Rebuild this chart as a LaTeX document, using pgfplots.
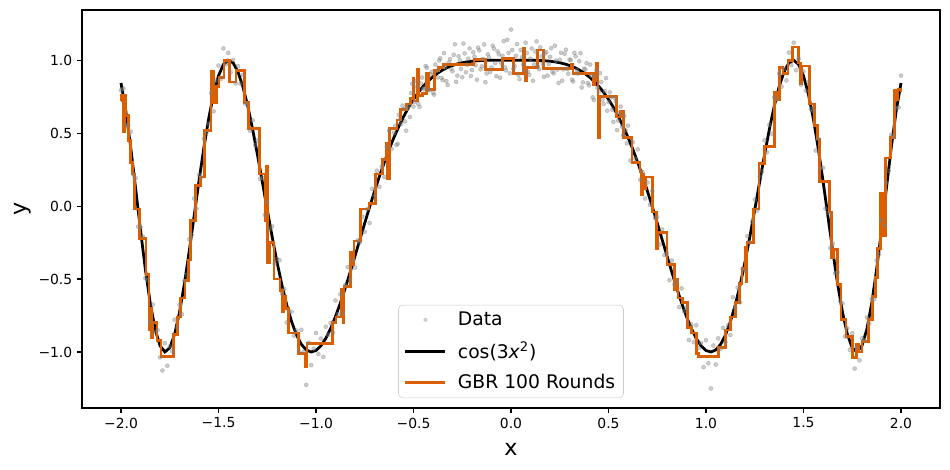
\documentclass[border=0pt]{standalone}
\usepackage{fontspec}
\setmainfont{DejaVu Sans}
\usepackage{pgfplots}
\pgfplotsset{compat=1.18}
\definecolor{gbr}{RGB}{217,95,2}
\definecolor{dots}{RGB}{128,128,128}
\definecolor{legedge}{RGB}{204,204,204}
\pgfplotsset{
  lineleg/.style={legend image code/.code={\draw[##1] (0bp,0bp) -- (28.8bp,0bp);}},
  dotleg/.style={legend image code/.code={\fill[draw=none, fill=dots, fill opacity=0.4] (14.4bp,0bp) circle (1.45bp); \path[draw=none] (0bp,0bp) -- (28.8bp,0bp);}},
}
\begin{document}
\begin{tikzpicture}
\path[use as bounding box] (-59.04bp,-44.64bp) rectangle (624.96bp,293.76bp);
\begin{axis}[
  width=617.76bp, height=286.56bp, scale only axis,
  xmin=-2.2, xmax=2.2, ymin=-1.384, ymax=1.344,
  axis line style={line width=0.8bp, black},
  tick align=outside, major tick length=3.5bp,
  every tick/.style={line width=0.8bp, black},
  xtick={-2,-1.5,-1,-0.5,0,0.5,1,1.5,2},
  xticklabels={−2.0,−1.5,−1.0,−0.5,0.0,0.5,1.0,1.5,2.0},
  ytick={-1,-0.5,0,0.5,1},
  yticklabels={−1.0,−0.5,0.0,0.5,1.0},
  xtick pos=bottom, ytick pos=left,
  ticklabel style={font=\fontsize{10bp}{12bp}\selectfont},
  xlabel={x}, ylabel={y},
  label style={font=\fontsize{16bp}{19bp}\selectfont},
  xlabel style={at={(axis description cs:0.5,-0.103)}, anchor=center},
  ylabel style={at={(axis description cs:-0.0688,0.5)}, anchor=center},
  legend style={at={(0.5,0.025)}, anchor=south, draw=legedge, rounded corners=3bp,
    fill=white, fill opacity=0.8, text opacity=1, draw opacity=1,
    font=\fontsize{13.5bp}{16bp}\selectfont, inner xsep=4bp, inner ysep=3bp,
    row sep=6bp, /tikz/every odd column/.append style={column sep=6bp}},
  legend cell align=left,
]
\addplot[only marks, mark=*, mark size=1.45bp, mark options={draw=dots, fill=dots, fill opacity=0.4, draw opacity=0.4}, dotleg]
coordinates {
(-2.0000,0.794)(-1.9875,0.806)(-1.9750,0.559)(-1.9625,0.555)(-1.9500,0.510)(-1.9375,0.221)(-1.9250,0.191)(-1.9125,-0.142)
(-1.9000,-0.145)(-1.8875,-0.209)(-1.8750,-0.494)(-1.8625,-0.509)(-1.8500,-0.795)(-1.8375,-0.675)(-1.8250,-0.864)(-1.8125,-0.850)
(-1.8000,-1.037)(-1.7875,-1.127)(-1.7750,-0.940)(-1.7625,-1.094)(-1.7500,-0.962)(-1.7375,-0.995)(-1.7250,-0.779)(-1.7125,-0.834)
(-1.7000,-0.678)(-1.6875,-0.741)(-1.6750,-0.514)(-1.6625,-0.471)(-1.6500,-0.228)(-1.6375,-0.198)(-1.6250,0.052)(-1.6125,-0.017)
(-1.6000,0.213)(-1.5875,0.197)(-1.5750,0.461)(-1.5625,0.501)(-1.5500,0.562)(-1.5375,0.775)(-1.5250,0.649)(-1.5125,0.861)
(-1.5000,0.963)(-1.4875,0.872)(-1.4750,1.081)(-1.4625,0.971)(-1.4500,1.050)(-1.4375,0.916)(-1.4250,1.002)(-1.4125,0.841)
(-1.4000,0.960)(-1.3875,0.839)(-1.3750,0.899)(-1.3625,0.702)(-1.3500,0.696)(-1.3375,0.516)(-1.3250,0.587)(-1.3125,0.418)
(-1.3000,0.450)(-1.2875,0.187)(-1.2750,0.194)(-1.2625,-0.061)(-1.2500,0.025)(-1.2375,-0.157)(-1.2250,-0.139)(-1.2125,-0.396)
(-1.2000,-0.363)(-1.1875,-0.371)(-1.1750,-0.600)(-1.1625,-0.569)(-1.1500,-0.798)(-1.1375,-0.725)(-1.1250,-0.723)(-1.1125,-0.888)
(-1.1000,-0.853)(-1.0875,-0.995)(-1.0750,-0.848)(-1.0625,-0.997)(-1.0500,-1.226)(-1.0375,-0.936)(-1.0250,-1.090)(-1.0125,-0.977)
(-1.0000,-0.870)(-0.9875,-1.014)(-0.9750,-0.908)(-0.9625,-1.033)(-0.9500,-0.827)(-0.9375,-0.883)(-0.9250,-0.800)(-0.9125,-0.868)
(-0.9000,-0.647)(-0.8875,-0.741)(-0.8750,-0.604)(-0.8625,-0.733)(-0.8500,-0.542)(-0.8375,-0.418)(-0.8250,-0.504)(-0.8125,-0.368)
(-0.8000,-0.422)(-0.7875,-0.236)(-0.7750,-0.250)(-0.7625,-0.073)(-0.7500,-0.176)(-0.7375,-0.021)(-0.7250,-0.116)(-0.7125,0.118)
(-0.7000,0.071)(-0.6875,0.242)(-0.6750,0.132)(-0.6625,0.271)(-0.6500,0.199)(-0.6375,0.405)(-0.6250,0.518)(-0.6125,0.391)
(-0.6000,0.501)(-0.5875,0.419)(-0.5750,0.626)(-0.5625,0.562)(-0.5500,0.665)(-0.5375,0.517)(-0.5250,0.687)(-0.5125,0.775)
(-0.5000,0.682)(-0.4875,0.857)(-0.4750,0.700)(-0.4625,0.841)(-0.4500,0.801)(-0.4375,0.960)(-0.4250,0.797)(-0.4125,0.903)
(-0.4000,0.777)(-0.3875,0.970)(-0.3750,0.882)(-0.3625,1.013)(-0.3500,0.863)(-0.3375,0.952)(-0.3250,0.830)(-0.3125,1.007)
(-0.3000,0.924)(-0.2875,1.109)(-0.2750,0.894)(-0.2625,0.999)(-0.2500,0.883)(-0.2375,1.046)(-0.2250,0.969)(-0.2125,1.081)
(-0.2000,0.933)(-0.1875,1.024)(-0.1750,0.866)(-0.1625,1.067)(-0.1500,0.958)(-0.1375,1.108)(-0.1250,0.909)(-0.1125,1.019)
(-0.1000,0.950)(-0.0875,1.080)(-0.0750,0.890)(-0.0625,1.040)(-0.0500,0.980)(-0.0375,1.130)(-0.0250,0.930)(-0.0125,1.050)
(0.0000,1.210)(0.0125,0.940)(0.0250,1.030)(0.0375,0.900)(0.0500,1.070)(0.0625,0.970)(0.0750,1.120)(0.0875,0.920)
(0.1000,1.010)(0.1125,0.859)(0.1250,1.059)(0.1375,0.958)(0.1500,1.088)(0.1625,0.977)(0.1750,1.046)(0.1875,0.894)
(0.2000,1.023)(0.2125,0.921)(0.2250,1.099)(0.2375,0.936)(0.2500,1.003)(0.2625,0.859)(0.2750,1.044)(0.2875,0.939)
(0.3000,1.004)(0.3125,0.867)(0.3250,1.050)(0.3375,0.932)(0.3500,0.993)(0.3625,0.813)(0.3750,0.942)(0.3875,0.980)
(0.4000,0.827)(0.4125,0.893)(0.4250,0.727)(0.4375,0.930)(0.4500,0.781)(0.4625,0.851)(0.4750,0.700)(0.4875,0.877)
(0.5000,0.712)(0.5125,0.745)(0.5250,0.577)(0.5375,0.717)(0.5500,0.585)(0.5625,0.682)(0.5750,0.486)(0.5875,0.519)
(0.6000,0.551)(0.6125,0.311)(0.6250,0.438)(0.6375,0.325)(0.6500,0.389)(0.6625,0.181)(0.6750,0.232)(0.6875,0.052)
(0.7000,0.161)(0.7125,0.008)(0.7250,0.104)(0.7375,-0.081)(0.7500,-0.076)(0.7625,-0.263)(0.7750,-0.160)(0.7875,-0.336)
(0.8000,-0.322)(0.8125,-0.508)(0.8250,-0.374)(0.8375,-0.538)(0.8500,-0.512)(0.8625,-0.693)(0.8750,-0.564)(0.8875,-0.721)
(0.9000,-0.697)(0.9125,-0.918)(0.9250,-0.810)(0.9375,-0.933)(0.9500,-0.817)(0.9625,-0.973)(0.9750,-0.938)(0.9875,-1.104)
(1.0000,-0.920)(1.0125,-1.077)(1.0250,-1.250)(1.0375,-0.956)(1.0500,-1.086)(1.0625,-0.907)(1.0750,-0.978)(1.0875,-0.835)
(1.1000,-0.933)(1.1125,-0.818)(1.1250,-0.883)(1.1375,-0.625)(1.1500,-0.698)(1.1625,-0.559)(1.1750,-0.660)(1.1875,-0.431)
(1.2000,-0.443)(1.2125,-0.206)(1.2250,-0.249)(1.2375,-0.107)(1.2500,0.045)(1.2625,-0.031)(1.2750,0.204)(1.2875,0.237)
(1.3000,0.450)(1.3125,0.368)(1.3250,0.557)(1.3375,0.496)(1.3500,0.746)(1.3625,0.732)(1.3750,0.909)(1.3875,0.819)
(1.4000,0.940)(1.4125,0.861)(1.4250,1.052)(1.4375,0.966)(1.4500,1.120)(1.4625,0.931)(1.4750,1.011)(1.4875,0.832)
(1.5000,0.923)(1.5125,0.791)(1.5250,0.849)(1.5375,0.665)(1.5500,0.652)(1.5625,0.381)(1.5750,0.461)(1.5875,0.257)
(1.6000,0.263)(1.6125,-0.017)(1.6250,-0.048)(1.6375,-0.288)(1.6500,-0.258)(1.6625,-0.461)(1.6750,-0.454)(1.6875,-0.651)
(1.7000,-0.668)(1.7125,-0.894)(1.7250,-0.839)(1.7375,-0.985)(1.7500,-0.872)(1.7625,-1.114)(1.7750,-0.970)(1.7875,-1.057)
(1.8000,-0.907)(1.8125,-0.920)(1.8250,-0.764)(1.8375,-0.805)(1.8500,-0.635)(1.8625,-0.639)(1.8750,-0.374)(1.8875,-0.329)
(1.9000,-0.095)(1.9125,-0.132)(1.9250,0.161)(1.9375,0.241)(1.9500,0.490)(1.9625,0.475)(1.9750,0.669)(1.9875,0.676)
(2.0000,0.894)
(-0.59375,0.550)(-0.58125,0.427)(-0.56875,0.594)(-0.55625,0.688)(-0.54375,0.581)(-0.53125,0.672)(-0.51875,0.611)(-0.50625,0.839)
(-0.49375,0.714)(-0.48125,0.818)(-0.46875,0.680)(-0.45625,0.881)(-0.44375,0.810)(-0.43125,0.948)(-0.41875,0.795)(-0.40625,0.920)
(-0.39375,0.764)(-0.38125,0.926)(-0.36875,0.998)(-0.35625,0.878)(-0.34375,1.048)(-0.33125,0.856)(-0.31875,0.984)(-0.30625,0.941)
(-0.29375,1.037)(-0.28125,0.852)(-0.26875,1.027)(-0.25625,0.941)(-0.24375,1.114)(-0.23125,0.917)(-0.21875,1.010)(-0.20625,0.892)
(-0.19375,1.054)(-0.18125,0.965)(-0.16875,1.086)(-0.15625,0.937)(-0.14375,1.008)(-0.13125,0.849)(-0.11875,1.040)(-0.10625,0.920)
(-0.09375,1.100)(-0.08125,0.980)(-0.06875,1.060)(-0.05625,0.880)(-0.04375,1.030)(-0.03125,0.950)(-0.01875,1.140)(-0.00625,0.910)
(0.00625,1.070)(0.01875,0.960)(0.03125,1.110)(0.04375,0.870)(0.05625,1.020)(0.06875,0.930)(0.08125,1.050)(0.09375,0.900)
(0.10625,1.080)(0.11875,0.970)(0.13125,1.129)(0.14375,0.938)(0.15625,1.027)(0.16875,0.886)(0.18125,1.055)(0.19375,0.974)
(0.20625,1.082)(0.21875,0.910)(0.23125,0.997)(0.24375,0.844)(0.25625,1.051)(0.26875,0.937)(0.28125,1.072)(0.29375,0.907)
(0.30625,1.001)(0.31875,0.854)(0.33125,1.026)(0.34375,0.908)(0.35625,1.048)(0.36875,0.848)(0.38125,0.936)(0.39375,0.844)
(0.40625,0.970)(0.41875,0.745)(0.43125,0.888)(0.44375,0.810)(0.45625,0.911)(0.46875,0.730)(0.48125,0.788)(0.49375,0.654)
(0.50625,0.779)(0.51875,0.661)(0.53125,0.742)(0.54375,0.521)(0.55625,0.638)(0.56875,0.544)(0.58125,0.617)(0.59375,0.430)
};
\addlegendentry{Data}
\addplot[black, line width=2bp, lineleg]
coordinates {
(-2.000,0.8439)(-1.975,0.6490)(-1.950,0.4004)(-1.925,0.1210)(-1.900,-0.1648)(-1.875,-0.4335)(-1.850,-0.6654)(-1.825,-0.8435)
(-1.800,-0.9567)(-1.775,-0.9996)(-1.750,-0.9720)(-1.725,-0.8786)(-1.700,-0.7284)(-1.675,-0.5336)(-1.650,-0.3084)(-1.625,-0.0678)
(-1.600,0.1729)(-1.575,0.4008)(-1.550,0.6021)(-1.525,0.7688)(-1.500,0.8930)(-1.475,0.9705)(-1.450,0.9997)(-1.425,0.9818)
(-1.400,0.9198)(-1.375,0.8188)(-1.350,0.6855)(-1.325,0.5267)(-1.300,0.3500)(-1.275,0.1637)(-1.250,-0.0249)(-1.225,-0.2089)
(-1.200,-0.3827)(-1.175,-0.5401)(-1.150,-0.6779)(-1.125,-0.7929)(-1.100,-0.8831)(-1.075,-0.9476)(-1.050,-0.9863)(-1.025,-1.0000)
(-1.000,-0.9900)(-0.975,-0.9583)(-0.950,-0.9072)(-0.925,-0.8395)(-0.900,-0.7573)(-0.875,-0.6639)(-0.850,-0.5619)(-0.825,-0.4538)
(-0.800,-0.3421)(-0.775,-0.2296)(-0.750,-0.1164)(-0.725,-0.0061)(-0.700,0.1006)(-0.675,0.2024)(-0.650,0.2987)(-0.625,0.3884)
(-0.600,0.4713)(-0.575,0.5461)(-0.550,0.6152)(-0.525,0.6772)(-0.500,0.7317)(-0.475,0.7795)(-0.450,0.8211)(-0.425,0.8568)
(-0.400,0.8870)(-0.375,0.9123)(-0.350,0.9332)(-0.325,0.9502)(-0.300,0.9638)(-0.275,0.9744)(-0.250,0.9825)(-0.225,0.9885)
(-0.200,0.9928)(-0.175,0.9958)(-0.150,0.9977)(-0.125,0.9989)(-0.100,0.9996)(-0.075,0.9999)(-0.050,1.0000)(-0.025,1.0000)
(0.000,1.0000)
(0.025,1.0000)(0.050,1.0000)(0.075,0.9999)(0.100,0.9996)(0.125,0.9989)(0.150,0.9977)(0.175,0.9958)(0.200,0.9928)
(0.225,0.9885)(0.250,0.9825)(0.275,0.9744)(0.300,0.9638)(0.325,0.9502)(0.350,0.9332)(0.375,0.9123)(0.400,0.8870)
(0.425,0.8568)(0.450,0.8211)(0.475,0.7795)(0.500,0.7317)(0.525,0.6772)(0.550,0.6152)(0.575,0.5461)(0.600,0.4713)
(0.625,0.3884)(0.650,0.2987)(0.675,0.2024)(0.700,0.1006)(0.725,-0.0061)(0.750,-0.1164)(0.775,-0.2296)(0.800,-0.3421)
(0.825,-0.4538)(0.850,-0.5619)(0.875,-0.6639)(0.900,-0.7573)(0.925,-0.8395)(0.950,-0.9072)(0.975,-0.9583)(1.000,-0.9900)
(1.025,-1.0000)(1.050,-0.9863)(1.075,-0.9476)(1.100,-0.8831)(1.125,-0.7929)(1.150,-0.6779)(1.175,-0.5401)(1.200,-0.3827)
(1.225,-0.2089)(1.250,-0.0249)(1.275,0.1637)(1.300,0.3500)(1.325,0.5267)(1.350,0.6855)(1.375,0.8188)(1.400,0.9198)
(1.425,0.9818)(1.450,0.9997)(1.475,0.9705)(1.500,0.8930)(1.525,0.7688)(1.550,0.6021)(1.575,0.4008)(1.600,0.1729)
(1.625,-0.0678)(1.650,-0.3084)(1.675,-0.5336)(1.700,-0.7284)(1.725,-0.8786)(1.750,-0.9720)(1.775,-0.9996)(1.800,-0.9567)
(1.825,-0.8435)(1.850,-0.6654)(1.875,-0.4335)(1.900,-0.1648)(1.925,0.1210)(1.950,0.4004)(1.975,0.6490)(2.000,0.8439)
};
\addlegendentry{cos(3\textit{x}\textsuperscript{2})}
\addplot[gbr, line width=2bp, const plot mark left, line join=miter, lineleg]
coordinates {
(-2.000,0.72)(-1.996,0.76)(-1.988,0.51)(-1.982,0.76)(-1.976,0.62)(-1.962,0.45)(-1.950,0.30)(-1.940,0.22)
(-1.929,-0.02)(-1.905,-0.22)(-1.872,-0.47)(-1.856,-0.85)(-1.848,-0.70)(-1.842,-0.90)(-1.836,-0.80)(-1.815,-0.92)
(-1.795,-1.03)(-1.730,-0.88)(-1.712,-0.76)(-1.695,-0.63)(-1.672,-0.51)(-1.655,-0.37)(-1.642,-0.10)(-1.618,0.14)
(-1.592,0.20)(-1.572,0.52)(-1.538,0.92)(-1.526,0.71)(-1.512,0.82)(-1.498,0.88)(-1.472,1.00)(-1.445,0.85)
(-1.410,0.93)(-1.368,0.71)(-1.346,0.53)(-1.290,0.22)(-1.262,-0.10)(-1.254,0.27)(-1.247,-0.39)(-1.240,-0.25)
(-1.215,-0.50)(-1.185,-0.58)(-1.172,-0.72)(-1.165,-0.62)(-1.155,-0.70)(-1.140,-0.87)(-1.090,-1.01)(-1.056,-1.10)
(-1.046,-0.94)(-0.915,-0.80)(-0.898,-0.76)(-0.868,-0.57)(-0.862,-0.80)(-0.856,-0.55)(-0.822,-0.32)(-0.812,-0.40)
(-0.805,-0.24)(-0.772,-0.02)(-0.728,0.02)(-0.695,0.22)(-0.660,0.32)(-0.640,0.43)(-0.632,0.19)(-0.625,0.53)
(-0.585,0.59)(-0.566,0.66)(-0.535,0.70)(-0.515,0.74)(-0.503,0.875)(-0.498,0.72)(-0.480,0.94)(-0.474,0.76)
(-0.452,0.77)(-0.432,0.91)(-0.420,0.80)(-0.392,0.93)(-0.370,0.95)(-0.345,0.97)(-0.190,1.005)(-0.131,0.936)
(-0.045,1.01)(0.012,0.908)(0.066,1.08)(0.072,0.86)(0.078,0.95)(0.134,1.07)(0.166,0.943)(0.310,0.97)
(0.318,0.91)(0.424,0.83)(0.430,0.86)(0.440,0.98)(0.446,0.47)(0.452,0.75)(0.540,0.61)(0.560,0.65)
(0.575,0.47)(0.620,0.30)(0.662,0.235)(0.668,0.08)(0.675,0.22)(0.682,0.12)(0.690,0.20)(0.725,-0.04)
(0.745,-0.18)(0.748,-0.29)(0.752,-0.18)(0.800,-0.40)(0.838,-0.575)(0.850,-0.50)(0.856,-0.63)(0.880,-0.66)
(0.905,-0.83)(0.925,-0.87)(0.950,-1.01)(0.960,-1.03)(1.063,-0.97)(1.100,-0.85)(1.125,-0.76)(1.150,-0.66)
(1.170,-0.53)(1.185,-0.43)(1.200,-0.28)(1.205,-0.52)(1.210,-0.25)(1.245,-0.02)(1.272,0.29)(1.300,0.41)
(1.350,0.78)(1.360,0.73)(1.378,0.95)(1.395,0.91)(1.420,1.00)(1.445,1.09)(1.475,0.98)(1.485,0.84)
(1.492,0.96)(1.530,0.70)(1.555,0.55)(1.572,0.46)(1.583,0.17)(1.632,-0.04)(1.642,-0.35)(1.655,-0.30)
(1.675,-0.54)(1.692,-0.78)(1.718,-0.895)(1.752,-1.04)(1.772,-0.95)(1.785,-1.00)(1.800,-0.93)(1.832,-0.78)
(1.855,-0.62)(1.868,-0.49)(1.880,-0.29)(1.895,0.09)(1.905,-0.20)(1.920,0.33)(1.948,0.47)(1.965,0.79)
(1.975,0.73)(1.985,0.80)(2.000,0.78)
};
\addlegendentry{GBR 100 Rounds}
\end{axis}
\end{tikzpicture}
\end{document}
